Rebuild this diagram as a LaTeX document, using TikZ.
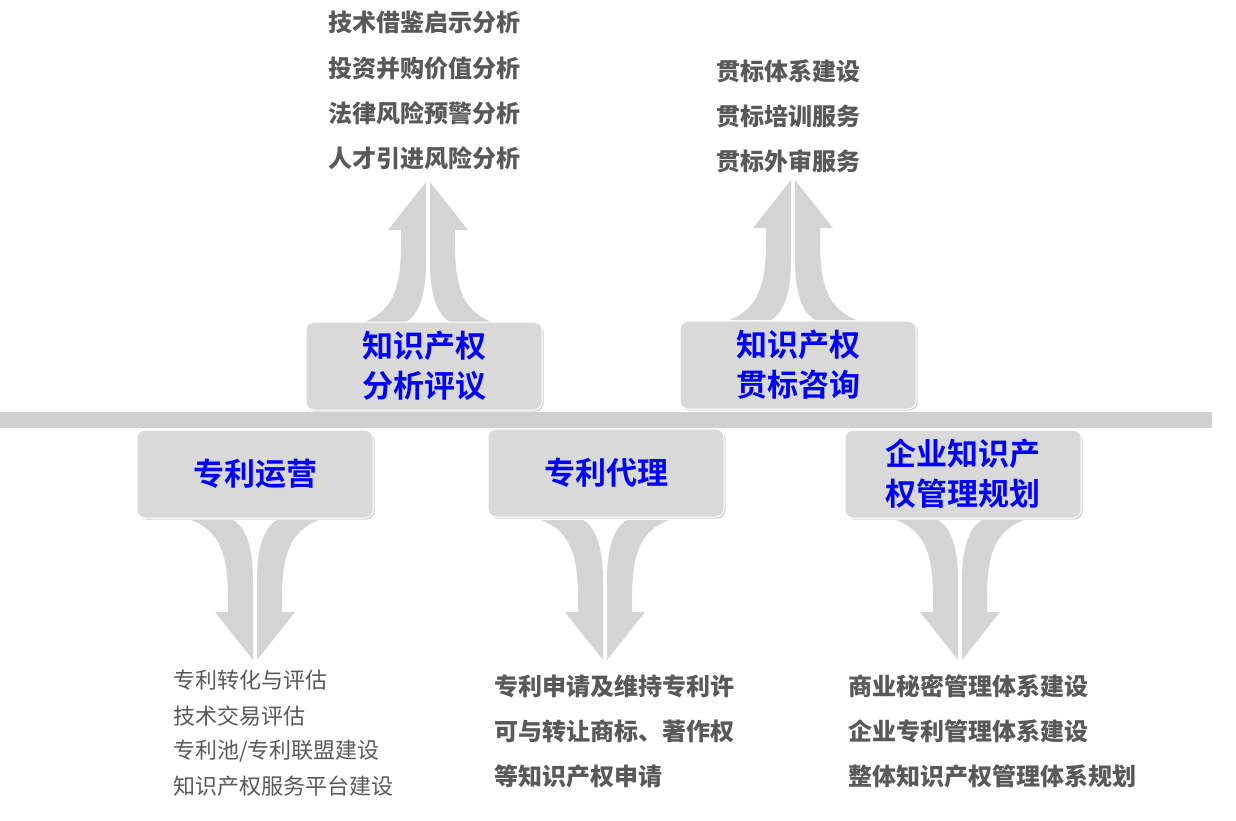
\documentclass[tikz,border=0pt]{standalone}
\usepackage{fontspec}
\setmainfont{Noto Sans CJK SC}
\newfontfamily\cjkbold{Noto Sans CJK SC Bold}
\usetikzlibrary{positioning,shadows}
\definecolor{txtgray}{HTML}{595959}
\definecolor{boxgray}{HTML}{D9D9D9}
\definecolor{arrgray}{HTML}{D4D4D4}
\tikzset{
  topic/.style = {draw=white, line width=1pt, rounded corners=8pt, fill=boxgray,
                  drop shadow={shadow xshift=1.5pt, shadow yshift=-1.5pt, opacity=.35},
                  minimum width=236pt, minimum height=88pt, align=center,
                  text=blue, font=\cjkbold\fontsize{31}{40}\selectfont},
  item/.style  = {anchor=west, text=txtgray, inner sep=0pt,
                  font=\bfseries\fontsize{24}{28}\selectfont},
  small/.style = {item, font=\fontsize{22}{26}\selectfont}
}
\newcommand{\halfarrow}{%
  \fill[arrgray] (-64,0) .. controls (-32,-12) and (-27,-40) .. (-27,-80)
    -- (-27,-92) -- (-40,-92) -- (-2,-140) -- (-2,-60)
    .. controls (-2,-30) and (-8,-8) .. (-22,0) -- cycle;}
\begin{document}
\begin{tikzpicture}[x=1pt,y=-1pt]
\useasboundingbox (0,0) rectangle (1236,820);

% the horizontal bar
\fill[boxgray!90!gray] (0,412) rectangle (1212,428);

% merging arrows, up from the upper boxes, down from the lower ones
\foreach \cx/\by/\dir in {428/322/1, 793/320/1, 255/520/-1, 605/520/-1, 960/520/-1}
  \foreach \side in {1,-1} {
    \begin{scope}[shift={(\cx,\by)}, xscale=\side, yscale=\dir]
      \halfarrow
    \end{scope}
  };

% the five topics
\node[topic] (analysis) at (424,366) {知识产权\\分析评议};
\node[topic] (standard) at (798,365) {知识产权\\贯标咨询};
\node[topic] (operate)  at (255,474) {专利运营};
\node[topic] (agency)   at (606,473) {专利代理};
\node[topic] (plan)     at (963,474) {企业知识产\\权管理规划};

% items above
\node[item] (a1) at (328,22)  {技术借鉴启示分析};
\node[item] (a2) at (328,68)  {投资并购价值分析};
\node[item] (a3) at (328,113) {法律风险预警分析};
\node[item] (a4) at (328,158) {人才引进风险分析};

\node[item] (s1) at (716,71)  {贯标体系建设};
\node[item] (s2) at (716,116) {贯标培训服务};
\node[item] (s3) at (716,161) {贯标外审服务};

% items below
\node[small] (o1) at (173,680) {专利转化与评估};
\node[small] (o2) at (173,716) {技术交易评估};
\node[small] (o3) at (173,751) {专利池/专利联盟建设};
\node[small] (o4) at (173,786) {知识产权服务平台建设};

\node[item] (g1) at (494,686) {专利申请及维持专利许};
\node[item] (g2) at (494,731) {可与转让商标、著作权};
\node[item] (g3) at (494,776) {等知识产权申请};

\node[item] (p1) at (848,686) {商业秘密管理体系建设};
\node[item] (p2) at (848,731) {企业专利管理体系建设};
\node[item] (p3) at (848,776) {整体知识产权管理体系规划};
\end{tikzpicture}
\end{document}
